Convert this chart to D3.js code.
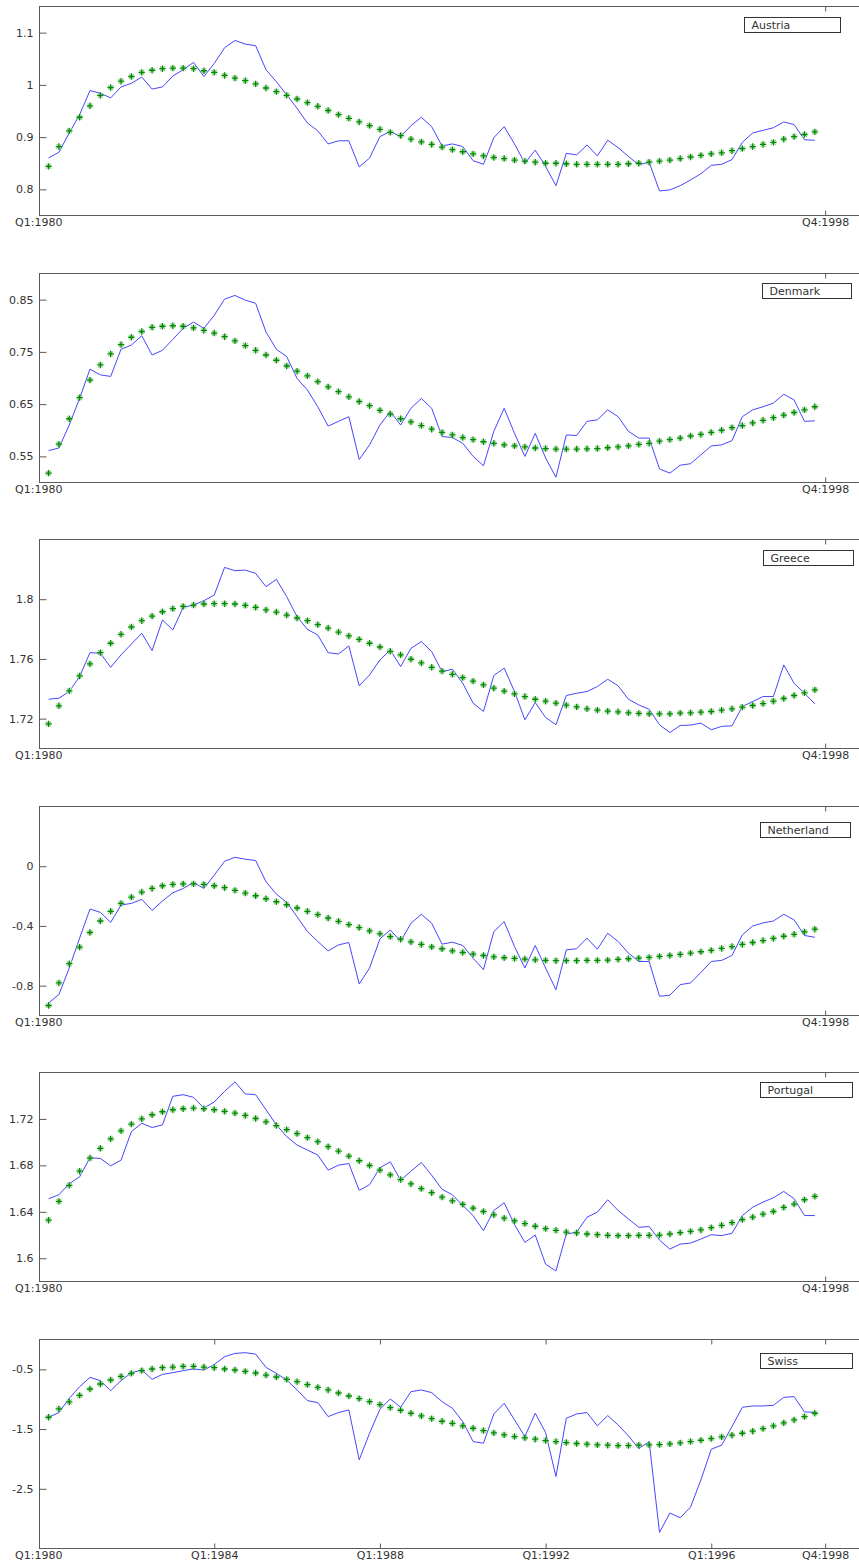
<!DOCTYPE html>
<html><head><meta charset="utf-8">
<script src="https://cdn.jsdelivr.net/npm/d3@7"></script>
<style>
html,body{margin:0;padding:0;background:#fff;}
svg{display:block;}
text{font-family:"DejaVu Sans",sans-serif;font-size:11px;fill:#333;}
</style></head><body>
<svg id="chart" width="859" height="1564"></svg>
<script>
// ---------------- data ----------------
const countries = ["Austria","Denmark","Greece","Netherland","Portugal","Swiss"];
// quarters Q1:1980 .. Q3:1998 are indices 1..75
const xTickValues = [0, 76];
const xTickLabels = ["Q1:1980", "Q4:1998"];
const xTickValuesBottom = [0, 17, 33, 49, 65, 76];
const xTickLabelsBottom = ["Q1:1980","Q1:1984","Q1:1988","Q1:1992","Q1:1996","Q4:1998"];

const austriaActual = [0.860,0.871,0.908,0.943,0.989,0.984,0.975,0.996,1.003,1.015,
0.992,0.996,1.017,1.029,1.043,1.016,1.041,1.071,1.085,1.078,
1.075,1.029,1.006,0.981,0.955,0.927,0.912,0.887,0.893,0.893,
0.843,0.860,0.901,0.911,0.901,0.922,0.938,0.920,0.883,0.887,
0.882,0.855,0.848,0.899,0.920,0.887,0.850,0.875,0.844,0.807,
0.869,0.866,0.885,0.864,0.894,0.880,0.863,0.847,0.852,0.797,
0.799,0.807,0.818,0.830,0.846,0.848,0.857,0.890,0.908,0.913,
0.918,0.929,0.924,0.895,0.894];
const austriaTrend = [0.844,0.882,0.912,0.938,0.960,0.980,0.995,1.007,1.016,1.024,
1.028,1.031,1.032,1.032,1.031,1.027,1.024,1.018,1.013,1.008,
1.002,0.994,0.987,0.980,0.973,0.966,0.959,0.951,0.943,0.936,
0.929,0.922,0.915,0.909,0.903,0.896,0.891,0.886,0.881,0.876,
0.872,0.868,0.864,0.861,0.859,0.856,0.854,0.852,0.850,0.850,
0.849,0.848,0.848,0.848,0.848,0.848,0.849,0.850,0.852,0.854,
0.856,0.859,0.862,0.865,0.868,0.870,0.874,0.878,0.882,0.886,
0.890,0.896,0.901,0.905,0.910];

const denmarkActual = [0.561,0.566,0.610,0.661,0.717,0.706,0.703,0.755,0.763,0.781,
0.744,0.753,0.774,0.795,0.807,0.795,0.820,0.851,0.858,0.849,
0.843,0.788,0.755,0.741,0.699,0.677,0.645,0.608,0.617,0.626,
0.544,0.572,0.610,0.636,0.610,0.642,0.661,0.642,0.588,0.586,
0.575,0.550,0.532,0.598,0.642,0.594,0.550,0.594,0.547,0.510,
0.591,0.590,0.617,0.620,0.639,0.626,0.598,0.585,0.585,0.526,
0.518,0.533,0.536,0.553,0.570,0.572,0.580,0.626,0.639,0.645,
0.652,0.669,0.658,0.617,0.618];
const denmarkTrend = [0.518,0.5735,0.622,0.6625,0.696,0.725,0.746,0.764,0.778,0.789,
0.797,0.799,0.800,0.799,0.796,0.791,0.786,0.779,0.771,0.762,
0.753,0.744,0.734,0.723,0.713,0.704,0.693,0.683,0.674,0.664,
0.655,0.647,0.638,0.631,0.622,0.616,0.609,0.602,0.596,0.591,
0.586,0.582,0.578,0.575,0.572,0.570,0.568,0.566,0.565,0.564,
0.564,0.564,0.5645,0.565,0.5665,0.568,0.570,0.573,0.575,0.579,
0.582,0.585,0.589,0.592,0.596,0.600,0.605,0.609,0.614,0.619,
0.624,0.629,0.634,0.639,0.645];

const greeceActual = [1.7330,1.7337,1.7382,1.7482,1.7642,1.7638,1.7544,1.7627,1.7700,1.7772,
1.7656,1.7861,1.7794,1.7945,1.7961,1.7990,1.8028,1.8213,1.8191,1.8195,
1.8173,1.8084,1.8133,1.8017,1.7883,1.7798,1.7760,1.7642,1.7633,1.7687,
1.7420,1.7493,1.7593,1.7660,1.7549,1.7671,1.7716,1.7649,1.7515,1.7531,
1.7437,1.7304,1.7248,1.7489,1.7538,1.7382,1.7192,1.7308,1.7208,1.7159,
1.7355,1.7370,1.7382,1.7415,1.7464,1.7420,1.7330,1.7292,1.7263,1.7159,
1.7107,1.7154,1.7157,1.7170,1.7125,1.7148,1.7152,1.7281,1.7315,1.7348,
1.7348,1.7560,1.7437,1.7370,1.7299];
const greeceTrend = [1.7165,1.7286,1.7386,1.7486,1.7567,1.7642,1.7705,1.7765,1.7814,1.7856,
1.7887,1.7916,1.7937,1.7952,1.7961,1.7968,1.7970,1.7970,1.7968,1.7959,
1.7945,1.7928,1.7914,1.7894,1.7874,1.7856,1.7830,1.7807,1.7780,1.7754,
1.7731,1.7705,1.7680,1.7651,1.7627,1.7598,1.7573,1.7544,1.7518,1.7497,
1.7475,1.7451,1.7426,1.7404,1.7384,1.7366,1.7348,1.7330,1.7317,1.7304,
1.7290,1.7279,1.7266,1.7257,1.7250,1.7246,1.7239,1.7235,1.7232,1.7232,
1.7232,1.7237,1.7239,1.7243,1.7248,1.7257,1.7266,1.7277,1.7288,1.7301,
1.7317,1.7335,1.7355,1.7373,1.7393];

const netherlandActual = [-0.916,-0.860,-0.682,-0.482,-0.287,-0.309,-0.376,-0.260,-0.249,-0.222,
-0.296,-0.233,-0.178,-0.149,-0.109,-0.149,-0.060,0.033,0.060,0.047,
0.038,-0.104,-0.187,-0.242,-0.338,-0.438,-0.504,-0.567,-0.527,-0.511,
-0.789,-0.682,-0.487,-0.427,-0.504,-0.382,-0.322,-0.382,-0.522,-0.509,
-0.531,-0.616,-0.693,-0.438,-0.371,-0.538,-0.682,-0.531,-0.682,-0.827,
-0.560,-0.553,-0.482,-0.556,-0.449,-0.504,-0.582,-0.638,-0.638,-0.871,
-0.864,-0.793,-0.782,-0.711,-0.638,-0.631,-0.598,-0.460,-0.400,-0.380,
-0.367,-0.322,-0.360,-0.464,-0.476];
const netherlandTrend = [-0.933,-0.782,-0.653,-0.542,-0.444,-0.367,-0.302,-0.249,-0.207,-0.173,
-0.149,-0.131,-0.122,-0.118,-0.118,-0.122,-0.131,-0.144,-0.162,-0.180,
-0.198,-0.218,-0.238,-0.258,-0.280,-0.302,-0.324,-0.347,-0.369,-0.391,
-0.411,-0.433,-0.453,-0.471,-0.489,-0.507,-0.524,-0.540,-0.553,-0.567,
-0.578,-0.589,-0.598,-0.607,-0.613,-0.618,-0.622,-0.627,-0.631,-0.633,
-0.633,-0.633,-0.631,-0.631,-0.629,-0.624,-0.620,-0.616,-0.611,-0.604,
-0.598,-0.591,-0.582,-0.573,-0.564,-0.551,-0.538,-0.524,-0.511,-0.498,
-0.484,-0.469,-0.456,-0.440,-0.422];

const portugalActual = [1.6513,1.6547,1.6643,1.6701,1.6866,1.6860,1.6796,1.6845,1.7091,1.7163,
1.7126,1.7149,1.7395,1.7409,1.7386,1.7294,1.7346,1.7438,1.7519,1.7415,
1.7409,1.7279,1.7149,1.7048,1.6975,1.6932,1.6889,1.6759,1.6802,1.6816,
1.6585,1.6634,1.6779,1.6831,1.6672,1.6750,1.6825,1.6715,1.6594,1.6547,
1.6455,1.6368,1.6238,1.6412,1.6478,1.6290,1.6137,1.6200,1.5949,1.5891,
1.6209,1.6224,1.6354,1.6397,1.6504,1.6412,1.6339,1.6267,1.6273,1.6157,
1.6079,1.6122,1.6131,1.6166,1.6203,1.6195,1.6215,1.6368,1.6440,1.6484,
1.6521,1.6576,1.6513,1.6368,1.6368];
const portugalTrend = [1.6328,1.6490,1.6628,1.6750,1.6863,1.6947,1.7028,1.7097,1.7155,1.7201,
1.7236,1.7262,1.7279,1.7288,1.7294,1.7288,1.7279,1.7265,1.7250,1.7230,
1.7204,1.7175,1.7143,1.7108,1.7074,1.7039,1.7004,1.6961,1.6923,1.6880,
1.6840,1.6799,1.6759,1.6718,1.6678,1.6640,1.6600,1.6565,1.6527,1.6495,
1.6464,1.6432,1.6403,1.6374,1.6345,1.6322,1.6299,1.6276,1.6255,1.6241,
1.6226,1.6218,1.6209,1.6203,1.6198,1.6195,1.6195,1.6198,1.6198,1.6200,
1.6209,1.6221,1.6232,1.6244,1.6264,1.6284,1.6307,1.6333,1.6354,1.6380,
1.6403,1.6438,1.6467,1.6504,1.6533];

const swissActual = [-1.302,-1.224,-0.985,-0.790,-0.634,-0.689,-0.857,-0.689,-0.556,-0.511,
-0.667,-0.584,-0.556,-0.522,-0.494,-0.511,-0.420,-0.288,-0.233,-0.221,
-0.244,-0.467,-0.567,-0.678,-0.845,-1.024,-1.057,-1.291,-1.224,-1.180,
-2.015,-1.570,-1.169,-0.996,-1.135,-0.873,-0.845,-0.890,-1.040,-1.152,
-1.375,-1.709,-1.737,-1.247,-1.068,-1.347,-1.625,-1.235,-1.558,-2.294,
-1.319,-1.247,-1.224,-1.447,-1.274,-1.430,-1.614,-1.826,-1.709,-3.230,
-2.907,-2.985,-2.806,-2.350,-1.837,-1.770,-1.458,-1.135,-1.113,-1.113,
-1.102,-0.968,-0.957,-1.213,-1.219];
const swissTrend = [-1.302,-1.163,-1.046,-0.935,-0.829,-0.745,-0.678,-0.617,-0.567,-0.522,
-0.494,-0.472,-0.461,-0.450,-0.450,-0.461,-0.472,-0.494,-0.511,-0.533,
-0.561,-0.595,-0.628,-0.667,-0.706,-0.756,-0.801,-0.845,-0.896,-0.946,
-0.990,-1.040,-1.091,-1.141,-1.185,-1.235,-1.280,-1.325,-1.369,-1.403,
-1.447,-1.486,-1.525,-1.564,-1.597,-1.625,-1.648,-1.670,-1.692,-1.709,
-1.726,-1.742,-1.753,-1.765,-1.770,-1.776,-1.776,-1.770,-1.765,-1.759,
-1.748,-1.731,-1.709,-1.687,-1.659,-1.631,-1.603,-1.570,-1.536,-1.492,
-1.447,-1.397,-1.347,-1.291,-1.235];

const yDomains = [[0.75,1.15],[0.5,0.9],[1.70,1.84],[-1,0.4],[1.58,1.76],[-3.5,0]];
const yTicks = [[0.8,0.9,1,1.1],[0.55,0.65,0.75,0.85],[1.72,1.76,1.8],[-0.8,-0.4,0],[1.6,1.64,1.68,1.72],[-2.5,-1.5,-0.5]];
const actualSeries = [austriaActual, denmarkActual, greeceActual, netherlandActual, portugalActual, swissActual];
const trendSeries = [austriaTrend, denmarkTrend, greeceTrend, netherlandTrend, portugalTrend, swissTrend];

// ---------------- layout ----------------
const panelH = 209;
const frameLeft = 39.5, frameRight = 866;
// legend boxes: [x, offset from panel top, width]
const legendBoxes = [[744.5,11,96],[762.5,10,89],[763.5,11,90],[760.5,16,90],[760.5,10,92],[760.5,14,92]];

const svg = d3.select("#chart");
const x = d3.scaleLinear().domain([0, 80]).range([38.2, 38.2 + 80*10.355]);

countries.forEach((name, k) => {
  const top = Math.round(6 + k*266.6) + 0.5;
  const bottom = top + panelH;
  const y = d3.scaleLinear().domain(yDomains[k]).range([bottom, top]);
  const g = svg.append("g");
  const isLast = k === countries.length - 1;
  const tv = isLast ? xTickValuesBottom : xTickValues;
  const tl = isLast ? xTickLabelsBottom : xTickLabels;

  // frame
  g.append("rect").attr("x", frameLeft).attr("y", top)
    .attr("width", frameRight - frameLeft).attr("height", panelH)
    .attr("fill", "none").attr("stroke", "#5a5a5a").attr("stroke-width", 1);

  // axes
  const yl = g.append("g").attr("transform", `translate(${frameLeft},0)`)
    .call(d3.axisLeft(y).tickValues(yTicks[k]).tickSizeInner(-7).tickSizeOuter(0).tickPadding(6).tickFormat(d => String(d)));
  const yr = g.append("g").attr("transform", `translate(${frameRight},0)`)
    .call(d3.axisRight(y).tickValues(yTicks[k]).tickSizeInner(-7).tickSizeOuter(0).tickFormat(""));
  const xb = g.append("g").attr("transform", `translate(0,${bottom})`)
    .call(d3.axisBottom(x).tickValues(tv).tickSizeInner(-5).tickSizeOuter(0).tickPadding(3)
      .tickFormat((d,i) => tl[i]));
  const xt = g.append("g").attr("transform", `translate(0,${top})`)
    .call(d3.axisTop(x).tickValues(tv).tickSizeInner(-5).tickSizeOuter(0).tickFormat(""));
  [yl, yr, xb, xt].forEach(a => {
    a.select(".domain").remove();
    a.selectAll(".tick line").attr("stroke", "#5a5a5a");
    a.selectAll(".tick text").attr("fill", "#333").style("font-family", '"DejaVu Sans",sans-serif').style("font-size", "11px");
    a.selectAll(".tick").filter(d => d === 0 && (a === xb || a === xt)).select("line").remove();
  });

  // actual series line
  const line = d3.line().x((d,i) => x(i+1)).y(d => y(d));
  g.append("path").datum(actualSeries[k]).attr("d", line)
    .attr("fill", "none").attr("stroke", "#4646ff").attr("stroke-width", 1)
    .attr("stroke-linejoin", "round");

  // trend stars
  const stars = g.append("g").selectAll("g").data(trendSeries[k]).join("g")
    .attr("transform", (d,i) => `translate(${x(i+1)},${y(d)})`);
  stars.append("path").attr("d", "M-2.4,-2.4L2.4,2.4M-2.4,2.4L2.4,-2.4")
    .attr("stroke", "#8ccc8c").attr("stroke-width", 1.3).attr("fill", "none");
  stars.append("path").attr("d", "M-3.2,0H3.2M0,-3.2V3.2")
    .attr("stroke", "#008a00").attr("stroke-width", 1.3).attr("fill", "none");

  // legend
  const lb = legendBoxes[k];
  g.append("rect").attr("x", lb[0]).attr("y", top + lb[1]).attr("width", lb[2]).attr("height", 15)
    .attr("fill", "#fff").attr("stroke", "#333").attr("stroke-width", 1);
  g.append("text").attr("x", lb[0] + 7).attr("y", top + lb[1] + 11.5).text(name);
});
</script>
</body></html>
